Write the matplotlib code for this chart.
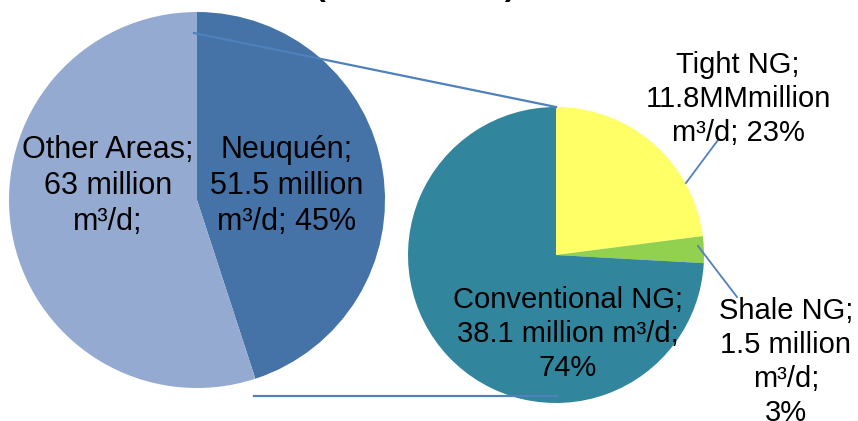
import matplotlib
matplotlib.use("Agg")
import matplotlib.pyplot as plt

plt.rcParams['font.family'] = ['Liberation Sans', 'DejaVu Sans']

# main pie: gas production by area (million m3/d)
areas = ["Neuquén", "Other Areas"]
area_values = [51.5, 63.0]
area_labels = ["Neuquén;\n51.5 million\nm³/d; 45%",
               "Other Areas;\n63 million\nm³/d;"]
area_colors = ["#4572A7", "#95AAD0"]

# secondary pie: Neuquén split by gas type
types = ["Tight NG", "Shale NG", "Conventional NG"]
type_values = [11.8, 1.5, 38.1]
type_labels = ["Tight NG;\n11.8MMmillion\nm³/d; 23%",
               "Shale NG;\n1.5 million\nm³/d;\n3%",
               "Conventional NG;\n38.1 million m³/d;\n74%"]
type_colors = ["#FFFF66", "#92D050", "#31859C"]

W, H = 858, 421
fig = plt.figure(figsize=(W / 100, H / 100), dpi=100)
ax = fig.add_axes([0, 0, 1, 1])

ax.pie(area_values, colors=area_colors, startangle=90, counterclock=False,
       center=(197, H - 200), radius=188, frame=True,
       wedgeprops=dict(linewidth=0))
ax.pie(type_values, colors=type_colors, startangle=90, counterclock=False,
       center=(556, H - 255), radius=148, frame=True,
       wedgeprops=dict(linewidth=0))

ax.set_xlim(0, W)
ax.set_ylim(0, H)
ax.axis('off')

line_col = '#4F81BD'
# connector lines between the two pies
ax.plot([194, 556], [H - 33, H - 107], color=line_col, lw=1.6)
ax.plot([254, 557], [H - 396, H - 396], color=line_col, lw=1.6)
# leader lines for outside labels
ax.plot([718, 686], [H - 140, H - 183], color=line_col, lw=1.3)
ax.plot([698, 737], [H - 246, H - 297], color=line_col, lw=1.3)

# labels
fs_big = 22
fs = 21
ls = 1.28
ax.text(108, H - 186, area_labels[1], ha='center', va='center', fontsize=fs_big, linespacing=ls)
ax.text(287, H - 186, area_labels[0], ha='center', va='center', fontsize=fs_big, linespacing=ls)
ax.text(738, H - 99, type_labels[0], ha='center', va='center', fontsize=fs, linespacing=ls)
ax.text(786, H - 362, type_labels[1], ha='center', va='center', fontsize=fs, linespacing=ls)
ax.text(568, H - 334, type_labels[2], ha='center', va='center', fontsize=fs, linespacing=ls)

# title, mostly cut off at the top edge
ax.text(415, H + 5, "(million m³/d)", ha='center', va='baseline', fontsize=23,
        fontweight='bold', clip_on=False)

fig.savefig("out.png", dpi=100)
